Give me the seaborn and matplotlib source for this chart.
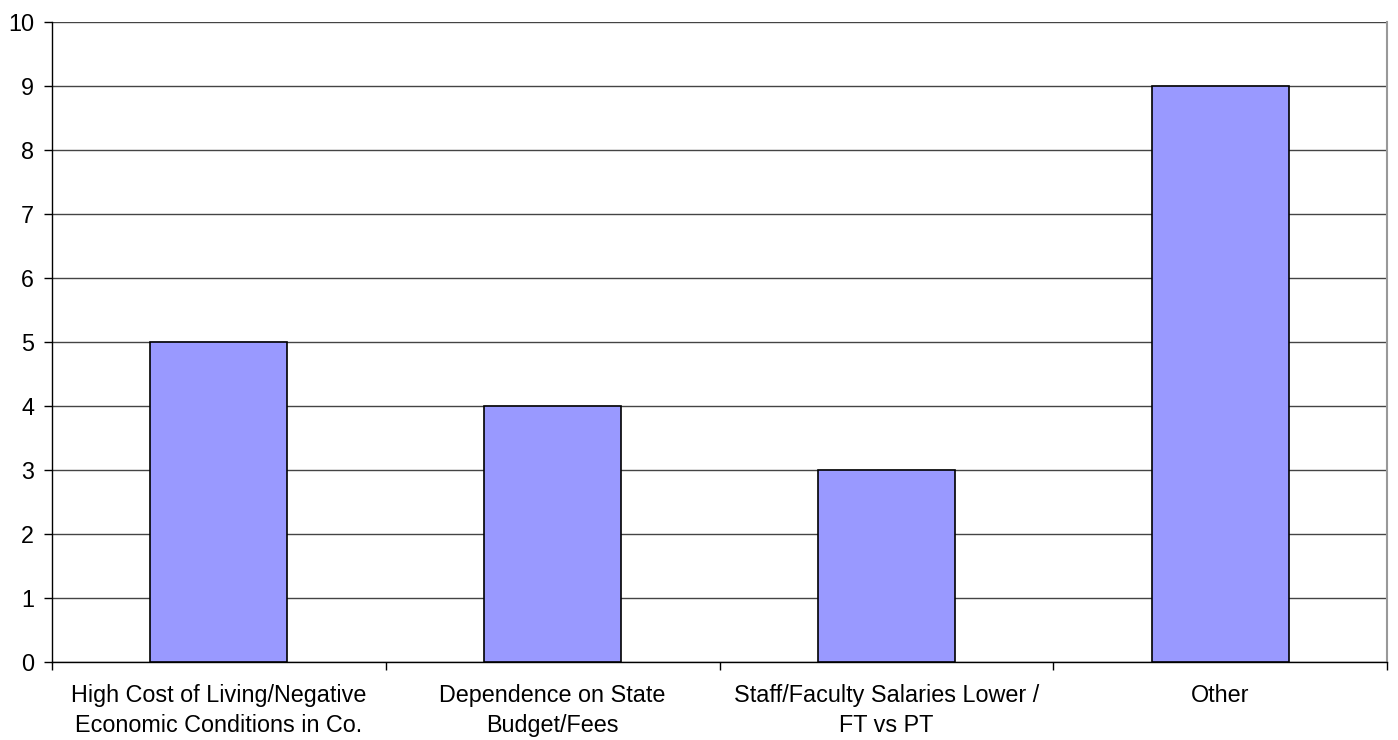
import matplotlib
matplotlib.use("Agg")
import matplotlib.pyplot as plt
import seaborn as sns
import pandas as pd
import numpy as np

categories = [
    "High Cost of Living/Negative\nEconomic Conditions in Co.",
    "Dependence on State\nBudget/Fees",
    "Staff/Faculty Salaries Lower /\nFT vs PT",
    "Other",
]
counts = [5, 4, 3, 9]
y_ticks = list(range(0, 11))

sns.set_theme(style="white")
plt.rcParams["font.family"] = ["Liberation Sans", "DejaVu Sans"]

df = pd.DataFrame({"category": categories, "count": counts})

fig = plt.figure(figsize=(13.98, 7.40), dpi=100)
ax = fig.add_axes([52 / 1398, 1 - 662 / 740, (1387 - 52) / 1398, (662 - 22) / 740])

sns.barplot(data=df, x="category", y="count", color="#9999FF", saturation=1,
            edgecolor="black", linewidth=1.2, width=0.41, ax=ax, zorder=3)

ax.set_ylim(0, 10)
ax.set_xlim(-0.5, len(categories) - 0.5)
ax.set_yticks(y_ticks)
ax.yaxis.grid(True, color="#444444", linewidth=1.0, zorder=0)
ax.set_axisbelow(True)

ax.set_xlabel("")
ax.set_ylabel("")

# category boundary ticks on the x axis, labels centered without ticks
ax.set_xticks(np.arange(len(categories)))
ax.set_xticks(np.arange(len(categories) + 1) - 0.5, minor=True)
ax.tick_params(axis="x", which="major", length=0, pad=16, labelsize=16.8, colors="black")
ax.tick_params(axis="x", which="minor", length=6, width=1, color="black", direction="out", bottom=True)
ax.tick_params(axis="y", which="major", length=6, width=1, color="black", direction="out",
               left=True, labelsize=16.8, pad=7, labelcolor="black")

for lbl in ax.get_xticklabels():
    lbl.set_horizontalalignment("center")
    lbl.set_multialignment("center")
    lbl.set_linespacing(1.35)

for side in ["left", "bottom"]:
    ax.spines[side].set_color("black")
    ax.spines[side].set_linewidth(1.0)
ax.spines["right"].set_color("#999999")
ax.spines["right"].set_linewidth(1.5)
ax.spines["top"].set_visible(False)

fig.savefig("out.png", dpi=100)
